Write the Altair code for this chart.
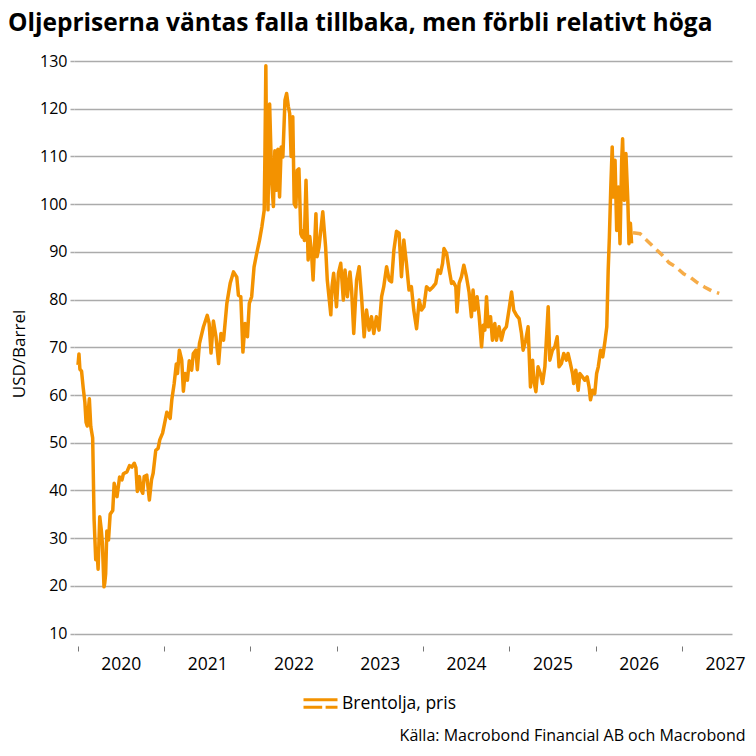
import altair as alt
import pandas as pd

# Brent crude, USD/barrel
hist_dates = [
    "2020-01-02", "2020-01-06", "2020-01-10", "2020-01-17", "2020-01-24", "2020-01-31",
    "2020-02-05", "2020-02-10", "2020-02-14", "2020-02-19", "2020-02-25", "2020-03-04",
    "2020-03-06", "2020-03-10", "2020-03-17", "2020-03-23", "2020-03-27", "2020-04-03",
    "2020-04-09", "2020-04-14", "2020-04-21", "2020-04-24", "2020-04-28", "2020-05-03",
    "2020-05-10", "2020-05-17", "2020-05-28", "2020-06-03", "2020-06-15", "2020-06-26",
    "2020-07-06", "2020-07-12", "2020-07-27", "2020-08-07", "2020-08-17", "2020-08-27",
    "2020-09-03", "2020-09-09", "2020-09-18", "2020-09-25", "2020-10-02", "2020-10-08",
    "2020-10-19", "2020-10-30", "2020-11-08", "2020-11-15", "2020-11-26", "2020-12-06",
    "2020-12-13", "2020-12-25",
    "2021-01-05", "2021-01-12", "2021-01-26", "2021-02-02", "2021-02-12", "2021-02-21",
    "2021-02-26", "2021-03-06", "2021-03-16", "2021-03-23", "2021-03-30", "2021-04-09",
    "2021-04-17", "2021-04-27", "2021-05-04", "2021-05-15", "2021-05-21", "2021-05-30",
    "2021-06-16", "2021-07-02", "2021-07-10", "2021-07-18", "2021-07-28", "2021-08-08",
    "2021-08-19", "2021-08-29", "2021-09-09", "2021-09-23", "2021-10-07", "2021-10-21",
    "2021-11-04", "2021-11-11", "2021-11-21", "2021-11-30", "2021-12-09", "2021-12-19",
    "2021-12-27",
    "2022-01-06", "2022-01-16", "2022-01-27", "2022-02-08", "2022-02-18", "2022-02-28",
    "2022-03-03", "2022-03-07", "2022-03-10", "2022-03-14", "2022-03-16", "2022-03-23",
    "2022-03-28", "2022-04-01", "2022-04-08", "2022-04-14", "2022-04-21", "2022-04-27",
    "2022-05-04", "2022-05-11", "2022-05-18", "2022-05-27", "2022-06-03", "2022-06-10",
    "2022-06-16", "2022-06-22", "2022-06-29", "2022-07-05", "2022-07-12", "2022-07-18",
    "2022-07-25", "2022-08-02", "2022-08-08", "2022-08-12", "2022-08-17", "2022-08-24",
    "2022-09-02", "2022-09-09", "2022-09-16", "2022-09-23", "2022-10-05", "2022-10-10",
    "2022-10-18", "2022-11-03", "2022-11-15", "2022-11-22", "2022-12-07", "2022-12-12",
    "2022-12-19", "2022-12-31",
    "2023-01-08", "2023-01-18", "2023-01-29", "2023-02-05", "2023-02-15", "2023-02-26",
    "2023-03-05", "2023-03-14", "2023-03-26", "2023-04-06", "2023-04-16", "2023-04-27",
    "2023-05-07", "2023-05-18", "2023-05-28", "2023-06-07", "2023-06-18", "2023-06-29",
    "2023-07-10", "2023-07-19", "2023-07-31", "2023-08-11", "2023-08-21", "2023-08-31",
    "2023-09-11", "2023-09-22", "2023-10-02", "2023-10-12", "2023-10-23", "2023-11-03",
    "2023-11-13", "2023-11-23", "2023-12-05", "2023-12-16", "2023-12-26",
    "2024-01-05", "2024-01-16", "2024-01-30", "2024-02-13", "2024-02-24", "2024-03-05",
    "2024-03-15", "2024-03-24", "2024-03-30", "2024-04-10", "2024-04-21", "2024-05-01",
    "2024-05-08", "2024-05-19", "2024-05-24", "2024-06-02", "2024-06-12", "2024-06-22",
    "2024-07-03", "2024-07-14", "2024-07-24", "2024-07-31", "2024-08-07", "2024-08-17",
    "2024-08-26", "2024-09-05", "2024-09-12", "2024-09-19", "2024-09-26", "2024-10-03",
    "2024-10-13", "2024-10-21", "2024-10-31", "2024-11-07", "2024-11-18", "2024-11-28",
    "2024-12-08", "2024-12-19", "2024-12-30",
    "2025-01-10", "2025-01-19", "2025-01-31", "2025-02-11", "2025-02-21", "2025-02-28",
    "2025-03-11", "2025-03-21", "2025-03-31", "2025-04-09", "2025-04-14", "2025-04-23",
    "2025-05-02", "2025-05-12", "2025-05-21", "2025-05-31", "2025-06-07", "2025-06-14",
    "2025-06-21", "2025-07-02", "2025-07-12", "2025-07-22", "2025-07-30", "2025-08-09",
    "2025-08-19", "2025-08-30", "2025-09-06", "2025-09-16", "2025-09-25", "2025-09-30",
    "2025-10-09", "2025-10-19", "2025-10-26", "2025-11-06", "2025-11-16", "2025-11-26",
    "2025-12-04", "2025-12-10", "2025-12-19", "2025-12-28",
    "2026-01-05", "2026-01-12", "2026-01-22", "2026-01-31", "2026-02-10", "2026-02-17",
    "2026-02-23", "2026-02-28", "2026-03-06", "2026-03-12", "2026-03-17", "2026-03-24",
    "2026-03-31", "2026-04-07", "2026-04-14", "2026-04-21", "2026-04-25", "2026-05-02",
    "2026-05-09", "2026-05-17", "2026-05-22", "2026-05-28", "2026-06-02",
]
hist_values = [
    66.3, 68.6, 65.4, 65.0, 61.5, 58.5,
    54.3, 53.5, 56.5, 59.2, 53.4, 51.0,
    45.5, 34.0, 25.5, 27.0, 23.5, 34.5,
    32.0, 29.0, 19.8, 20.5, 22.5, 31.5,
    29.6, 35.0, 35.8, 41.5, 38.7, 42.8,
    42.2, 43.5, 43.9, 45.2, 44.9, 45.7,
    44.8, 39.8, 42.9, 40.2, 39.4, 42.9,
    43.2, 38.0, 42.2, 43.6, 48.4, 48.8,
    50.6, 52.0,
    54.7, 56.4, 55.1, 59.0, 62.4, 66.5,
    64.5, 69.4, 67.3, 60.8, 64.5, 63.1,
    67.2, 65.2, 68.7, 69.4, 65.3, 70.8,
    74.3, 76.7, 75.0, 68.8, 75.5, 72.2,
    66.6, 72.9, 71.5, 79.2, 83.4, 85.8,
    84.7, 80.9, 80.6, 69.0, 75.0, 72.2,
    79.2,
    80.6, 86.8, 89.6, 92.4, 95.2, 98.7,
    110.0, 129.0, 111.3, 104.0, 98.8, 121.0,
    112.0, 104.5, 99.5, 111.2, 102.9, 111.5,
    101.5, 112.0, 109.9, 121.8, 123.2, 120.5,
    119.0, 110.0, 118.3, 100.1, 99.4, 107.1,
    107.4, 93.8, 93.1, 94.5, 92.4, 105.0,
    88.3, 93.2, 90.0, 84.1, 98.0, 89.0,
    91.0, 98.4, 91.0, 84.1, 76.8, 82.7,
    85.5, 78.5,
    85.5, 87.6, 79.9, 86.2, 80.6, 85.8,
    82.0, 72.9, 84.1, 86.9, 80.6, 72.2,
    77.8, 73.6, 76.4, 72.9, 76.4, 73.6,
    80.6, 82.7, 86.9, 84.1, 83.7, 90.4,
    94.3, 93.9, 84.8, 92.5, 87.6, 82.0,
    82.7, 77.8, 73.9, 79.9, 77.8,
    78.5, 82.7, 82.0, 82.7, 83.4, 86.2,
    85.5, 87.6, 90.7, 89.7, 86.2, 83.4,
    83.7, 82.7, 77.4, 83.4, 84.8, 87.2,
    84.8, 81.6, 76.4, 82.0, 77.8, 80.6,
    76.4, 70.1, 74.6, 73.6, 80.6, 74.3,
    76.4, 71.5, 75.0, 71.5, 74.3, 71.5,
    73.6, 74.3, 77.8,
    81.6, 77.8, 76.7, 76.0, 72.9, 69.4,
    71.5, 74.3, 61.7, 67.3, 63.1, 60.7,
    65.9, 64.5, 62.4, 65.9, 72.2, 78.5,
    67.3, 69.4, 70.1, 72.2, 65.9, 66.6,
    68.7, 67.3, 68.7, 66.6, 64.5, 62.4,
    65.2, 61.0, 64.5, 63.8, 63.1, 63.8,
    61.7, 59.0, 61.0, 60.3,
    64.5, 65.9, 69.4, 68.0, 71.5, 74.3,
    86.2, 93.1, 103.6, 112.0, 101.5, 109.2,
    94.5, 103.6, 91.7, 109.2, 113.7, 100.8,
    110.6, 100.8, 91.7, 96.0, 91.8,
]

# Forecast (dashed)
fc_dates = [
    "2026-06-08", "2026-07-08", "2026-08-08", "2026-09-08", "2026-10-08", "2026-11-08",
    "2026-12-08", "2027-01-08", "2027-02-08", "2027-03-08", "2027-04-08", "2027-05-08",
    "2027-06-08",
]
fc_values = [94.0, 93.8, 92.3, 90.8, 89.4, 87.7, 86.8, 85.4, 84.6, 83.5, 82.6, 81.8, 81.3]

series_name = "Brentolja, pris"
year_ticks = [2020, 2021, 2022, 2023, 2024, 2025, 2026, 2027]
y_ticks = [10, 20, 30, 40, 50, 60, 70, 80, 90, 100, 110, 120, 130]

title_text = "Oljepriserna väntas falla tillbaka, men förbli relativt höga"
source_text = "Källa: Macrobond Financial AB och Macrobond"
y_title = "USD/Barrel"

FONT = "Open Sans"
ORANGE = "#F39200"
ORANGE_LIGHT = "#F6AC48"
GRID = "#ababab"

hist = pd.DataFrame({"date": hist_dates, "value": hist_values, "serie": series_name})
fc = pd.DataFrame({"date": fc_dates, "value": fc_values})

x_scale = alt.Scale(
    type="utc",
    domain=[alt.DateTime(year=2019, month=12, date=16, utc=True),
            alt.DateTime(year=2027, month=8, date=1, utc=True)],
)
y_scale = alt.Scale(domain=[7.4, 130], nice=False, zero=False)

x_axis = alt.Axis(
    values=[alt.DateTime(year=y, month=1, date=1, utc=True) for y in year_ticks],
    format="%Y",
    labelOffset=43,
    labelFont=FONT,
    labelFontSize=17.5,
    labelColor="#000000",
    labelPadding=4,
    tickSize=5,
    tickColor="#777777",
    tickWidth=1,
    domain=False,
    grid=False,
    title=source_text,
    titleFont=FONT,
    titleFontSize=16,
    titleFontWeight="normal",
    titleColor="#000000",
    titleAlign="right",
    titleBaseline="alphabetic",
    titleX=671,
    titleY=94,
)
y_axis = alt.Axis(
    values=y_ticks,
    labelFont=FONT,
    labelFontSize=16,
    labelColor="#000000",
    labelPadding=3,
    tickSize=4,
    tickColor=GRID,
    tickWidth=1.5,
    gridColor=GRID,
    gridWidth=1.5,
    domain=False,
    title=y_title,
    titleFont=FONT,
    titleFontSize=17,
    titleFontWeight="normal",
    titleColor="#000000",
    titlePadding=11,
)

legend = alt.Legend(
    title=None,
    orient="none",
    legendX=228,
    legendY=624,
    padding=0,
    symbolType="M-1,-0.22L1,-0.22M-1,0.22L0.1,0.22M0.3,0.22L1,0.22",
    symbolSize=1156,
    symbolStrokeWidth=3,
    labelFont=FONT,
    labelFontSize=17.5,
    labelColor="#000000",
    labelOffset=3,
)

hist_line = alt.Chart(hist).mark_line(strokeWidth=3.5, strokeJoin="round").encode(
    x=alt.X("date:T", scale=x_scale, axis=x_axis),
    y=alt.Y("value:Q", scale=y_scale, axis=y_axis),
    color=alt.Color("serie:N", scale=alt.Scale(domain=[series_name], range=[ORANGE]), legend=legend),
)
fc_line = alt.Chart(fc).mark_line(strokeWidth=3.5, strokeDash=[9, 6], color=ORANGE_LIGHT).encode(
    x=alt.X("date:T"),
    y=alt.Y("value:Q"),
)

chart = alt.layer(hist_line, fc_line).properties(
    width=658,
    height=585,
    padding={"left": 74, "top": 61, "right": 24, "bottom": 110},
    autosize=alt.AutoSizeParams(type="none"),
    title=alt.TitleParams(
        text=title_text,
        font=FONT,
        fontSize=24.5,
        fontWeight="bold",
        color="#000000",
        anchor="start",
        frame="group",
        dx=-66,
        offset=17,
    ),
).configure(background="white").configure_view(strokeWidth=0)

chart.save("out.html", embed_options={"renderer": "svg", "actions": False})
